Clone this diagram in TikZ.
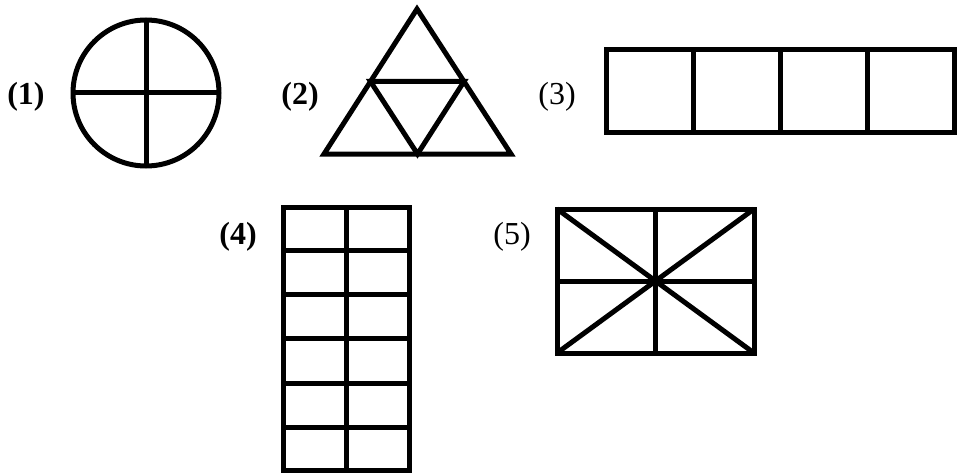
\documentclass[tikz,border=0pt]{standalone}
\usepackage{fontspec}
\setmainfont{Liberation Serif}
\begin{document}
\begin{tikzpicture}[x=1pt, y=-1pt, line width=5pt,
    lbl/.style={font=\fontsize{32}{32}\selectfont\bfseries},
    lblr/.style={font=\fontsize{32}{32}\selectfont}]
    \useasboundingbox (0,0) rectangle (958,476);

    % Figure 1 : cercle
    \node[lbl] (l1) at (26,97) {(1)};
    \draw (146,93) circle[radius=73pt];
    \draw (73,93) -- (219,93);
    \draw (146,20) -- (146,166);

    % Figure 2 : triangle
    \node[lbl] (l2) at (300,97) {(2)};
    \draw (417,9) -- (511,154) -- (324,154) -- cycle;
    \draw (370.5,81.5) -- (464,81.5) -- (417.5,154) -- cycle;

    % Figure 3 : bande de 4
    \node[lblr] (l3) at (557,97) {(3)};
    \draw (606,50) rectangle (954,133);
    \foreach \x in {693,780,867}
        \draw (\x,50) -- (\x,133);

    % Figure 4 : grille 2 x 6
    \node[lbl] (l4) at (238,237) {(4)};
    \draw (283,207) rectangle (409,470);
    \draw (346,207) -- (346,470);
    \foreach \y in {250,294,338,383,427}
        \draw (283,\y) -- (409,\y);

    % Figure 5 : rectangle en 8
    \node[lblr] (l5) at (512,237) {(5)};
    \draw (557,209) rectangle (754,353);
    \draw (655.5,209) -- (655.5,353);
    \draw (557,281) -- (754,281);
    \draw (557,209) -- (754,353);
    \draw (557,353) -- (754,209);
\end{tikzpicture}
\end{document}
